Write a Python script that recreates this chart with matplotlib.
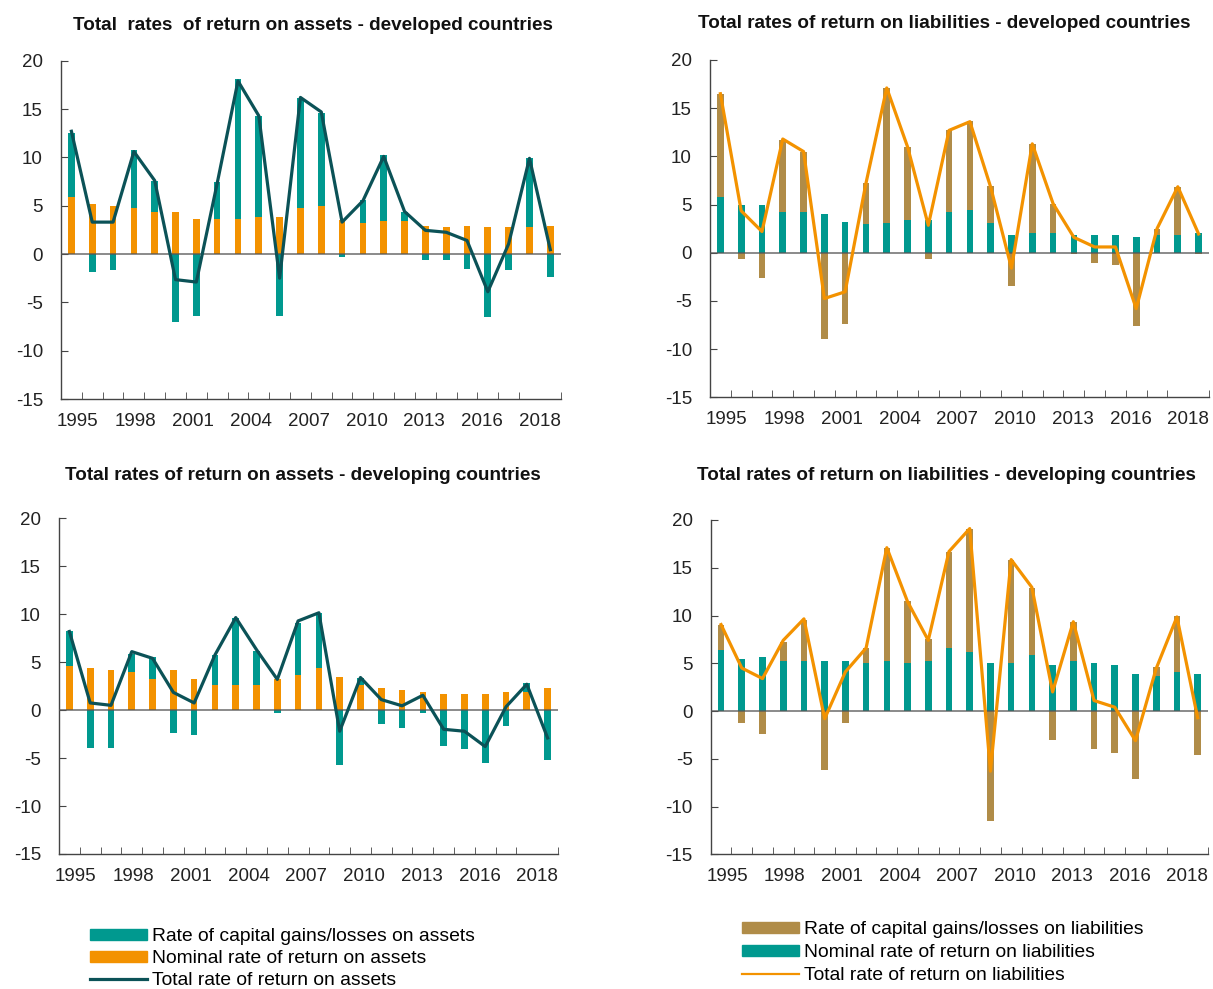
import numpy as np
import matplotlib
matplotlib.use('Agg')
import matplotlib.pyplot as plt
from matplotlib.patches import Patch
from matplotlib.lines import Line2D

plt.rcParams['font.family'] = ['Liberation Sans', 'DejaVu Sans']
plt.rcParams['axes.unicode_minus'] = False

years = list(range(1995, 2019))
tick_labels = ['1995', '1998', '2001', '2004', '2007', '2010', '2013', '2016', '2018']

# developed countries, assets
dev_asset_nominal = [5.9, 5.2, 5.0, 4.75, 4.3, 4.3, 3.65, 3.65, 3.65, 3.85, 3.85, 4.75,
                     5.0, 3.55, 3.25, 3.45, 3.45, 2.95, 2.75, 2.95, 2.75, 2.75, 2.75, 2.95]
dev_asset_gains = [6.6, -1.9, -1.7, 6.05, 3.3, -7.0, -6.4, 3.75, 14.45, 10.45, -6.4, 11.35,
                   9.55, -0.3, 2.35, 6.8, 0.85, -0.6, -0.6, -1.5, -6.55, -1.7, 7.15, -2.4]
dev_asset_total = [12.7, 3.3, 3.3, 10.6, 7.6, -2.65, -2.9, 7.3, 17.9, 14.3, -2.5, 16.2,
                   14.7, 3.3, 5.5, 10.1, 4.4, 2.45, 2.25, 1.4, -3.9, 1.05, 9.9, 0.45]

# developed countries, liabilities
dev_liab_nominal = [5.8, 4.95, 4.95, 4.25, 4.25, 4.05, 3.15, 2.95, 3.1, 3.35, 3.35, 4.25,
                    4.45, 3.1, 1.85, 2.05, 2.05, 1.85, 1.85, 1.85, 1.6, 1.8, 1.8, 2.05]
dev_liab_gains = [10.7, -0.6, -2.6, 7.45, 6.25, -8.9, -7.35, 4.25, 14.0, 7.6, -0.6, 8.45,
                  9.2, 3.85, -3.5, 9.25, 3.05, -0.15, -1.05, -1.3, -7.55, 0.7, 5.05, -0.15]
dev_liab_total = [16.5, 4.35, 2.2, 11.8, 10.5, -4.75, -4.05, 7.2, 17.1, 11.0, 2.85, 12.7,
                  13.6, 6.8, -1.6, 11.3, 5.1, 1.6, 0.6, 0.6, -5.8, 2.5, 6.85, 1.95]

# developing countries, assets
dvg_asset_nominal = [4.6, 4.35, 4.15, 3.95, 3.25, 4.15, 3.25, 2.6, 2.6, 2.6, 3.25, 3.7,
                     4.4, 3.5, 2.6, 2.35, 2.15, 1.9, 1.7, 1.7, 1.7, 1.9, 1.9, 2.35]
dvg_asset_gains = [3.6, -3.9, -3.9, 1.95, 2.25, -2.35, -2.55, 3.15, 7.05, 3.55, -0.3, 5.4,
                   5.75, -5.75, 0.8, -1.45, -1.9, -0.3, -3.7, -4.1, -5.5, -1.65, 0.95, -5.2]
dvg_asset_total = [8.2, 0.75, 0.5, 6.1, 5.4, 1.85, 0.75, 5.75, 9.65, 6.3, 3.2, 9.3,
                   10.15, -2.2, 3.4, 1.1, 0.45, 1.55, -2.0, -2.2, -3.8, 0.35, 2.7, -2.9]

# developing countries, liabilities
dvg_liab_nominal = [6.35, 5.45, 5.7, 5.25, 5.25, 5.25, 5.25, 5.0, 5.25, 5.0, 5.25, 6.6,
                    6.15, 5.05, 5.05, 5.9, 4.8, 5.25, 5.05, 4.8, 3.9, 3.65, 4.1, 3.9]
dvg_liab_gains = [2.7, -1.25, -2.4, 2.0, 4.25, -6.15, -1.25, 1.6, 11.85, 6.55, 2.25, 10.1,
                  12.95, -11.55, 10.75, 6.95, -3.0, 4.05, -3.95, -4.35, -7.1, 0.95, 5.85, -4.6]
dvg_liab_total = [9.05, 4.5, 3.4, 7.4, 9.65, -0.8, 4.1, 6.6, 17.1, 11.45, 7.4, 16.7,
                  19.1, -6.3, 15.85, 12.95, 2.0, 9.35, 1.1, 0.4, -3.1, 4.45, 9.85, -0.7]

TEAL = '#00998f'
ORANGE = '#f39200'
BROWN = '#b08c48'
DARK = '#0b5257'

W, H = 1213, 989
fig = plt.figure(figsize=(W / 100, H / 100), dpi=100)


def px_axes(left, top, right, bottom):
    return fig.add_axes([left / W, 1 - bottom / H, (right - left) / W, (bottom - top) / H])


def stacked_panel(ax, base, gains, total, base_col, gain_col, line_col):
    x = np.array(years)
    base = np.array(base)
    gains = np.array(gains)
    ax.bar(x, base, width=0.32, color=base_col, zorder=2)
    # positive gains sit on top of the base bar, losses hang below zero
    bottom = np.where(gains > 0, base, 0)
    ax.bar(x, gains, width=0.32, bottom=bottom, color=gain_col, zorder=2)
    ax.plot(x, total, color=line_col, lw=2.3, zorder=4)
    ax.axhline(0, color='#555555', lw=1.2, alpha=0.8, zorder=3)

    ax.set_xlim(1994.5, 2018.5)
    ax.set_ylim(-15, 20)
    ax.set_yticks(range(-15, 21, 5))
    ax.set_xticks(np.arange(1994.5, 2019, 1), minor=True)
    ax.set_xticks(np.linspace(1995.3, 2017.5, 9))
    ax.set_xticklabels(tick_labels)
    ax.tick_params(axis='x', which='major', length=0, pad=10, labelsize=13.5, colors='#222222')
    ax.tick_params(axis='x', which='minor', direction='in', length=5, color='#444444')
    ax.tick_params(axis='y', direction='in', length=5, pad=13, labelsize=13.5,
                   color='#444444', labelcolor='#222222')
    for s in ['top', 'right']:
        ax.spines[s].set_visible(False)
    for s in ['left', 'bottom']:
        ax.spines[s].set_color('#444444')
        ax.spines[s].set_linewidth(1.0)


ax1 = px_axes(61, 60.7, 560.7, 399)
stacked_panel(ax1, dev_asset_nominal, dev_asset_gains, dev_asset_total, ORANGE, TEAL, DARK)
ax2 = px_axes(710, 60, 1209, 397.3)
stacked_panel(ax2, dev_liab_nominal, dev_liab_gains, dev_liab_total, TEAL, BROWN, ORANGE)
ax3 = px_axes(59, 518.3, 558, 854)
stacked_panel(ax3, dvg_asset_nominal, dvg_asset_gains, dvg_asset_total, ORANGE, TEAL, DARK)
ax4 = px_axes(710.7, 520, 1208, 854.3)
stacked_panel(ax4, dvg_liab_nominal, dvg_liab_gains, dvg_liab_total, TEAL, BROWN, ORANGE)

title_kw = dict(ha='center', va='center', fontsize=13.6, fontweight='bold', color='#111111')
fig.text(313 / W, 1 - 25 / H, 'Total  rates  of return on assets - developed countries', **title_kw)
fig.text(944 / W, 1 - 24 / H, 'Total rates of return on liabilities - developed countries', **title_kw)
fig.text(303 / W, 1 - 476 / H, 'Total rates of return on assets - developing countries', **title_kw)
fig.text(946 / W, 1 - 476 / H, 'Total rates of return on liabilities - developing countries', **title_kw)

leg_kw = dict(frameon=False, fontsize=13.85, handlelength=2.95, handleheight=0.5,
              handletextpad=0.28, borderpad=0, borderaxespad=0, loc='upper left')
asset_handles = [Patch(color=TEAL), Patch(color=ORANGE), Line2D([], [], color=DARK, lw=2.3)]
fig.legend(asset_handles,
           ['Rate of capital gains/losses on assets', 'Nominal rate of return on assets',
            'Total rate of return on assets'],
           bbox_to_anchor=(90 / W, 1 - 928 / H), labelspacing=0.26, **leg_kw)
liab_handles = [Patch(color=BROWN), Patch(color=TEAL), Line2D([], [], color=ORANGE, lw=1.6)]
fig.legend(liab_handles,
           ['Rate of capital gains/losses on liabilities', 'Nominal rate of return on liabilities',
            'Total rate of return on liabilities'],
           bbox_to_anchor=(742 / W, 1 - 921 / H), labelspacing=0.32, **leg_kw)

fig.savefig('out.png', dpi=100)
